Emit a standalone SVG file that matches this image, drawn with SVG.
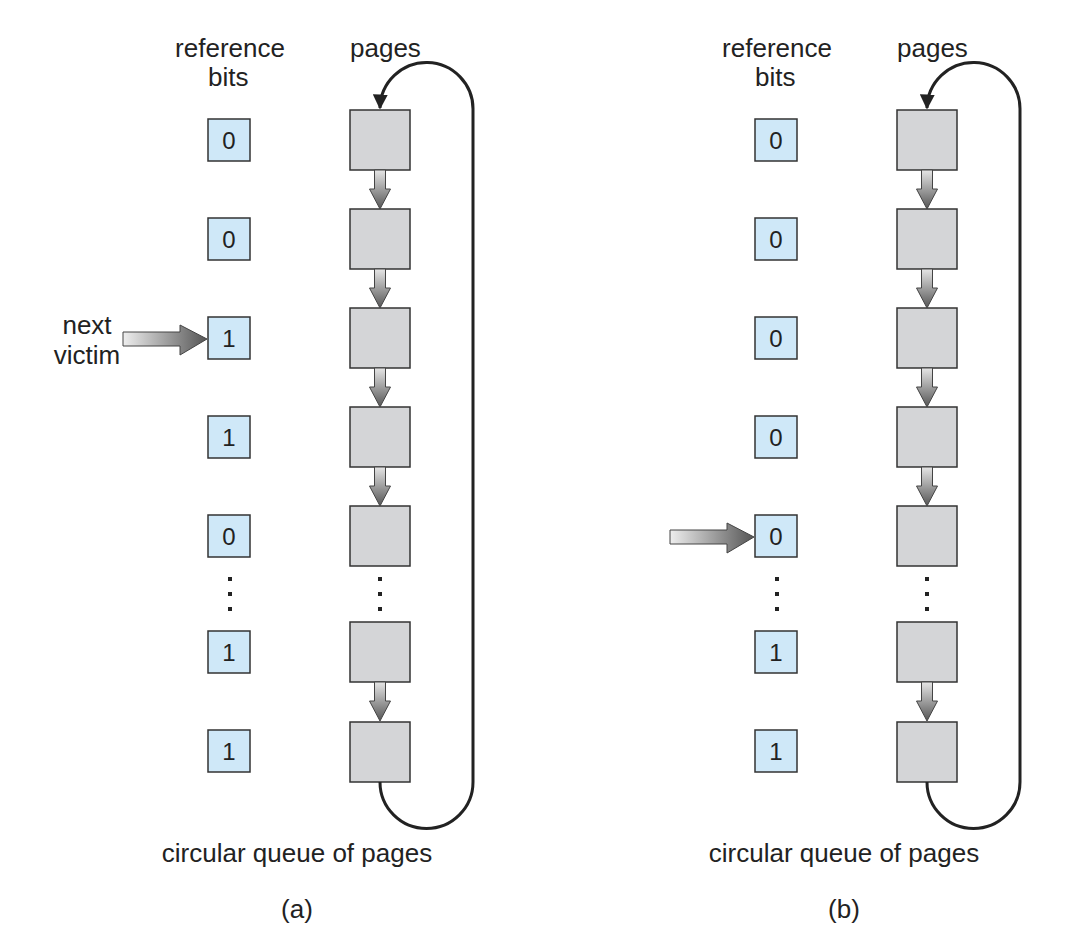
<svg xmlns="http://www.w3.org/2000/svg" width="1070" height="950" viewBox="0 0 1070 950">
<defs>
<linearGradient id="gv" x1="0" y1="0" x2="0" y2="1"><stop offset="0" stop-color="#e6e6e6"/><stop offset="1" stop-color="#555"/></linearGradient>
<linearGradient id="gh" x1="0" y1="0" x2="1" y2="0"><stop offset="0" stop-color="#eeeeee"/><stop offset="1" stop-color="#555"/></linearGradient>
<marker id="ah" viewBox="0 0 10 10" refX="9" refY="5" markerWidth="5" markerHeight="5" orient="auto-start-reverse"><path d="M0,0 L10,5 L0,10 Z" fill="#222"/></marker>
<g id="dn"><path d="M-5.5,0 H5.5 V19 H10.5 L0,39 L-10.5,19 H-5.5 Z" fill="url(#gv)" stroke="#444" stroke-width="1"/></g>
<g id="rt"><path d="M0,-7 H57 V-14 L84,0 L57,16 V7 H0 Z" fill="url(#gh)" stroke="#444" stroke-width="1"/></g>
</defs>
<style>
text{font-family:"Liberation Sans",Arial,sans-serif;font-size:26px;fill:#222}
.bit{fill:#cfe8f8;stroke:#333;stroke-width:1.5}
.pg{fill:#d4d5d7;stroke:#333;stroke-width:1.5}
.bt{font-size:24px;text-anchor:middle}
.loop{fill:none;stroke:#222;stroke-width:3}
.dot{fill:#222}
</style>
<g id="panelA">
<text x="230" y="57" text-anchor="middle">reference</text>
<text x="208" y="86">bits</text>
<text x="350" y="57">pages</text>
<g id="a-bits">
<rect class="bit" x="208" y="119" width="42" height="42"/><text class="bt" x="229" y="149">0</text>
<rect class="bit" x="208" y="218" width="42" height="42"/><text class="bt" x="229" y="248">0</text>
<rect class="bit" x="208" y="317" width="42" height="42"/><text class="bt" x="229" y="347">1</text>
<rect class="bit" x="208" y="416" width="42" height="42"/><text class="bt" x="229" y="446">1</text>
<rect class="bit" x="208" y="515" width="42" height="42"/><text class="bt" x="229" y="545">0</text>
<rect class="bit" x="208" y="631" width="42" height="42"/><text class="bt" x="229" y="661">1</text>
<rect class="bit" x="208" y="730" width="42" height="42"/><text class="bt" x="229" y="760">1</text>
<rect class="dot" x="228" y="577" width="4" height="4"/><rect class="dot" x="228" y="592" width="4" height="4"/><rect class="dot" x="228" y="607" width="4" height="4"/>
</g>
<g id="a-pages">
<rect class="pg" x="350" y="110" width="60" height="60"/>
<rect class="pg" x="350" y="209" width="60" height="60"/>
<rect class="pg" x="350" y="308" width="60" height="60"/>
<rect class="pg" x="350" y="407" width="60" height="60"/>
<rect class="pg" x="350" y="506" width="60" height="60"/>
<rect class="pg" x="350" y="622" width="60" height="60"/>
<rect class="pg" x="350" y="722" width="60" height="60"/>
<rect class="dot" x="378" y="577" width="4" height="4"/><rect class="dot" x="378" y="592" width="4" height="4"/><rect class="dot" x="378" y="607" width="4" height="4"/>
</g>
<g id="a-connectors">
<use href="#dn" x="380" y="170"/><use href="#dn" x="380" y="269"/><use href="#dn" x="380" y="368"/><use href="#dn" x="380" y="467"/><use href="#dn" x="380" y="682"/>
<path class="loop" d="M380,782 A46.5,46.5 0 0 0 473,782 V110 A46.5,46.5 0 0 0 380,108" marker-end="url(#ah)"/>
<use href="#rt" x="123" y="339"/>
</g>
<text x="87" y="334" text-anchor="middle">next</text>
<text x="87" y="364" text-anchor="middle">victim</text>
<text x="297" y="862" text-anchor="middle">circular queue of pages</text>
<text x="297" y="918" text-anchor="middle">(a)</text>
</g>
<g id="panelB" transform="translate(547,0)">
<text x="230" y="57" text-anchor="middle">reference</text>
<text x="208" y="86">bits</text>
<text x="350" y="57">pages</text>
<g id="b-bits">
<rect class="bit" x="208" y="119" width="42" height="42"/><text class="bt" x="229" y="149">0</text>
<rect class="bit" x="208" y="218" width="42" height="42"/><text class="bt" x="229" y="248">0</text>
<rect class="bit" x="208" y="317" width="42" height="42"/><text class="bt" x="229" y="347">0</text>
<rect class="bit" x="208" y="416" width="42" height="42"/><text class="bt" x="229" y="446">0</text>
<rect class="bit" x="208" y="515" width="42" height="42"/><text class="bt" x="229" y="545">0</text>
<rect class="bit" x="208" y="631" width="42" height="42"/><text class="bt" x="229" y="661">1</text>
<rect class="bit" x="208" y="730" width="42" height="42"/><text class="bt" x="229" y="760">1</text>
<rect class="dot" x="228" y="577" width="4" height="4"/><rect class="dot" x="228" y="592" width="4" height="4"/><rect class="dot" x="228" y="607" width="4" height="4"/>
</g>
<g id="b-pages">
<rect class="pg" x="350" y="110" width="60" height="60"/>
<rect class="pg" x="350" y="209" width="60" height="60"/>
<rect class="pg" x="350" y="308" width="60" height="60"/>
<rect class="pg" x="350" y="407" width="60" height="60"/>
<rect class="pg" x="350" y="506" width="60" height="60"/>
<rect class="pg" x="350" y="622" width="60" height="60"/>
<rect class="pg" x="350" y="722" width="60" height="60"/>
<rect class="dot" x="378" y="577" width="4" height="4"/><rect class="dot" x="378" y="592" width="4" height="4"/><rect class="dot" x="378" y="607" width="4" height="4"/>
</g>
<g id="b-connectors">
<use href="#dn" x="380" y="170"/><use href="#dn" x="380" y="269"/><use href="#dn" x="380" y="368"/><use href="#dn" x="380" y="467"/><use href="#dn" x="380" y="682"/>
<path class="loop" d="M380,782 A46.5,46.5 0 0 0 473,782 V110 A46.5,46.5 0 0 0 380,108" marker-end="url(#ah)"/>
<use href="#rt" x="123" y="537"/>
</g>
<text x="297" y="862" text-anchor="middle">circular queue of pages</text>
<text x="297" y="918" text-anchor="middle">(b)</text>
</g>
</svg>
